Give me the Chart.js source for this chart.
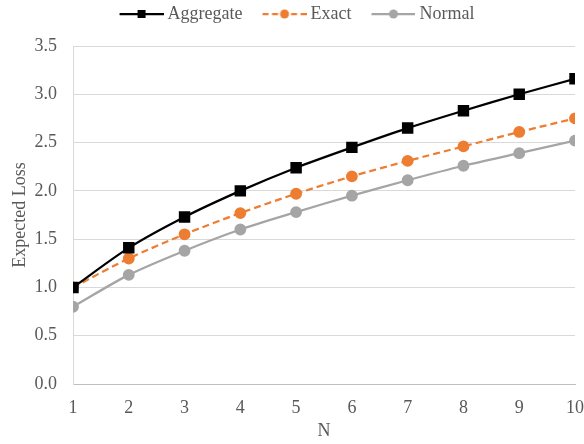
<!DOCTYPE html>
<html>
<head>
<meta charset="utf-8">
<script src="https://cdn.jsdelivr.net/npm/chart.js@4.4.0/dist/chart.umd.min.js"></script>
<style>
  html, body { margin: 0; padding: 0; background: #fff; }
  #wrap { width: 584px; height: 444px; }
</style>
</head>
<body>
<div id="wrap"><canvas id="lossChart"></canvas></div>
<script>
/* --------------- Data --------------------- */
const nValues = [1, 2, 3, 4, 5, 6, 7, 8, 9, 10];
const aggregateLoss = [1.00, 1.41, 1.73, 2.00, 2.24, 2.45, 2.65, 2.83, 3.00, 3.16];
const exactLoss = [1.00, 1.30, 1.55, 1.77, 1.97, 2.15, 2.31, 2.46, 2.61, 2.75];
const normalLoss = [0.80, 1.13, 1.38, 1.60, 1.78, 1.95, 2.11, 2.26, 2.39, 2.52];
const yTicks = [0, 0.5, 1, 1.5, 2, 2.5, 3, 3.5];

const toPoints = (ys) => ys.map((y, i) => ({ x: nValues[i], y: y }));

/* --------------- Legend Glyphs (line + marker) --------------------- */
// image is wider than the legend box, with a transparent left margin,
// so the line sits close to its label like in the original
const GLYPH_W = 64, LINE_W = 44;
const legendGlyph = (color, dash, marker) => {
    const c = document.createElement("canvas");
    c.width = GLYPH_W;
    c.height = 12;
    const g = c.getContext("2d");
    const x0 = GLYPH_W - LINE_W;
    g.strokeStyle = color;
    g.lineWidth = 2.25;
    g.setLineDash(dash);
    g.beginPath();
    g.moveTo(x0, 6);
    g.lineTo(GLYPH_W, 6);
    g.stroke();
    g.fillStyle = color;
    const cx = x0 + LINE_W / 2;
    if (marker === "rect") {
        g.fillRect(cx - 4, 2, 8, 8);
    } else {
        g.beginPath();
        g.arc(cx, 6, 4.5, 0, Math.PI * 2);
        g.fill();
    }
    return c;
};

const font = "'Liberation Serif', 'Times New Roman', serif";
const textColor = "#595959";
const fontSize = 18;

/* --------------- Legend spacing: fixed height so plot starts at y=46 --------------------- */
const legendHeight = {
    id: "legendHeight",
    beforeInit(chart) {
        const fit = chart.legend.fit;
        chart.legend.fit = function () {
            fit.call(this);
            this.height = 46;
            if (this.lineWidths && this.lineWidths.length) this.lineWidths[0] += 14; // pull row left
        };
    },
};

/* --------------- Chart --------------------- */
new Chart(document.getElementById("lossChart"), {
    type: "line",
    plugins: [legendHeight],
    data: {
        datasets: [
            {
                label: "Aggregate",
                data: toPoints(aggregateLoss),
                borderColor: "#000000",
                backgroundColor: "#000000",
                borderWidth: 2.25,
                pointStyle: "rect",
                pointRadius: 6.5,
                tension: 0.3,
                glyph: legendGlyph("#000000", [], "rect"),
            },
            {
                label: "Exact",
                data: toPoints(exactLoss),
                borderColor: "#ED7D31",
                backgroundColor: "#ED7D31",
                borderWidth: 2.25,
                borderDash: [7, 4],
                pointStyle: "circle",
                pointRadius: 4.8,
                tension: 0.3,
                glyph: legendGlyph("#ED7D31", [6, 3.5], "circle"),
            },
            {
                label: "Normal",
                data: toPoints(normalLoss),
                borderColor: "#A5A5A5",
                backgroundColor: "#A5A5A5",
                borderWidth: 2.25,
                pointStyle: "circle",
                pointRadius: 4.8,
                tension: 0.3,
                glyph: legendGlyph("#A5A5A5", [], "circle"),
            },
        ],
    },
    options: {
        responsive: true,
        maintainAspectRatio: false,
        animation: false,
        layout: { padding: { left: 9, right: 0, top: 0, bottom: 2 } },
        plugins: {
            tooltip: { enabled: false },
            legend: {
                position: "top",
                labels: {
                    usePointStyle: true,
                    pointStyleWidth: 54,
                    boxHeight: 12,
                    padding: 5,
                    color: textColor,
                    font: { family: font, size: fontSize },
                    generateLabels: (chart) => chart.data.datasets.map((ds, i) => ({
                        text: ds.label,
                        pointStyle: ds.glyph,
                        fillStyle: ds.borderColor,
                        strokeStyle: ds.borderColor,
                        lineWidth: 0,
                        fontColor: textColor,
                        datasetIndex: i,
                        hidden: false,
                    })),
                },
            },
        },
        scales: {
            x: {
                type: "linear",
                min: 1,
                max: 10,
                afterBuildTicks: (axis) => { axis.ticks = nValues.map(v => ({ value: v })); },
                afterFit: (axis) => {
                    axis.height = 58;
                    axis.paddingLeft = 0;
                    axis.paddingRight = 9;
                },
                grid: { display: false, drawTicks: false },
                border: { display: true, color: "#bfbfbf", width: 1 },
                ticks: { color: textColor, font: { family: font, size: fontSize }, padding: 13, maxRotation: 0 },
                title: { display: true, text: "N", color: textColor, font: { family: font, size: fontSize }, padding: { top: 4, bottom: 0 } },
            },
            y: {
                min: 0,
                max: 3.5,
                afterBuildTicks: (axis) => { axis.ticks = yTicks.map(v => ({ value: v })); },
                afterFit: (axis) => {
                    axis.width = 64;
                    axis.paddingTop = 0;
                    axis.paddingBottom = 0;
                },
                grid: { color: "#d9d9d9", drawTicks: false },
                border: { display: true, color: "#d9d9d9" },
                ticks: {
                    color: textColor,
                    font: { family: font, size: fontSize },
                    padding: 16,
                    callback: (v) => v.toFixed(1),
                },
                title: { display: true, text: "Expected Loss", color: textColor, font: { family: font, size: fontSize }, padding: { top: 0, bottom: 4 } },
            },
        },
    },
});
</script>
</body>
</html>
